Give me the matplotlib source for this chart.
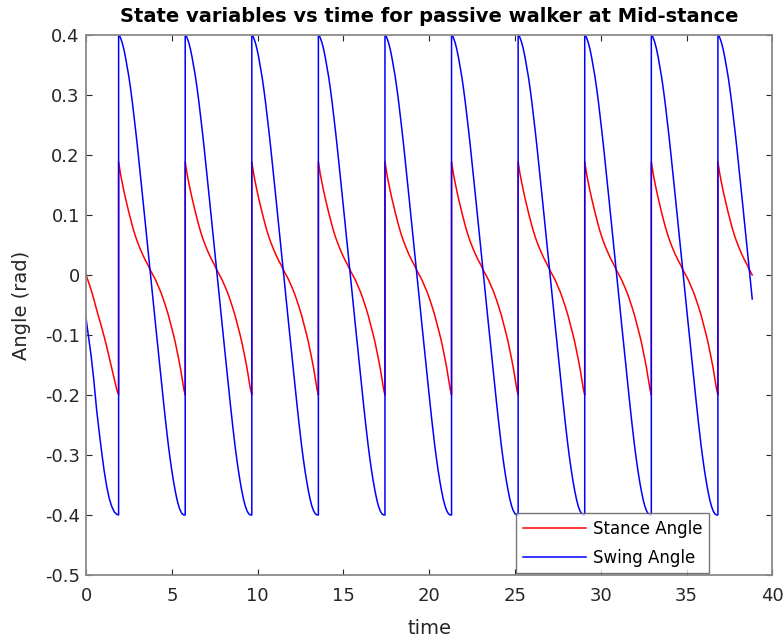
import numpy as np
import matplotlib
matplotlib.use("Agg")
import matplotlib.pyplot as plt

plt.rcParams['font.family'] = ['DejaVu Sans']
plt.rcParams['axes.unicode_minus'] = False

# first (partial) step, starting at mid-stance
first_t = [0.0, 0.15, 0.3, 0.45, 0.62, 0.77, 0.92, 1.06, 1.21, 1.35, 1.5, 1.65, 1.8, 1.9]
first_stance = [0.0, -0.012, -0.025, -0.040, -0.058, -0.073, -0.088, -0.103, -0.12,
                -0.137, -0.155, -0.174, -0.192, -0.2]
first_swing = [-0.072, -0.104, -0.135, -0.174, -0.225, -0.262, -0.297, -0.327, -0.353,
               -0.372, -0.386, -0.395, -0.399, -0.4]

# one full step of the limit cycle, time measured from heel strike
cycle_tau = [0.0, 0.05, 0.1, 0.2, 0.3, 0.4, 0.5, 0.6, 0.7, 0.8, 0.9, 1.0, 1.1, 1.25,
             1.4, 1.55, 1.7, 1.85, 2.0, 2.15, 2.3, 2.45, 2.6, 2.75, 2.9, 3.0, 3.1,
             3.2, 3.3, 3.4, 3.5, 3.6, 3.7, 3.8, 3.88]
cycle_stance = [0.189, 0.179, 0.170, 0.155, 0.141, 0.128, 0.116, 0.104, 0.093, 0.082,
                0.072, 0.063, 0.055, 0.044, 0.034, 0.025, 0.017, 0.008, 0.0, -0.008,
                -0.018, -0.028, -0.040, -0.053, -0.067, -0.078, -0.089, -0.100, -0.112,
                -0.126, -0.140, -0.155, -0.172, -0.190, -0.2]
cycle_swing = [0.400, 0.399, 0.396, 0.388, 0.377, 0.363, 0.347, 0.330, 0.310, 0.288,
               0.264, 0.239, 0.213, 0.172, 0.130, 0.088, 0.045, 0.003, -0.040, -0.082,
               -0.124, -0.166, -0.207, -0.247, -0.284, -0.306, -0.326, -0.344, -0.360,
               -0.374, -0.385, -0.393, -0.398, -0.400, -0.400]

# heel strike times and end of simulation
step_times = [1.9, 5.78, 9.66, 13.54, 17.42, 21.3, 25.18, 29.06, 32.94, 36.82]
end_time = 38.85

xticks = [0, 5, 10, 15, 20, 25, 30, 35, 40]
yticks = [-0.5, -0.4, -0.3, -0.2, -0.1, 0, 0.1, 0.2, 0.3, 0.4]
ytick_labels = ['-0.5', '-0.4', '-0.3', '-0.2', '-0.1', '0', '0.1', '0.2', '0.3', '0.4']

t = list(first_t)
stance = list(first_stance)
swing = list(first_swing)
for s in step_times:
    for tau, a, b in zip(cycle_tau, cycle_stance, cycle_swing):
        if s + tau > end_time + 1e-9:
            break
        t.append(s + tau)
        stance.append(a)
        swing.append(b)

fig = plt.figure(figsize=(7.84, 6.43), dpi=100)
ax = fig.add_axes([0.1097, 0.1058, 0.8756, 0.8398])

ax.plot(t, stance, color=(1, 0, 0), lw=1.1, label='Stance Angle')
ax.plot(t, swing, color=(0, 0, 1), lw=1.1, label='Swing Angle')

ax.set_xlim(0, 40)
ax.set_ylim(-0.5, 0.4)
ax.set_xticks(xticks)
ax.set_yticks(yticks)
ax.set_yticklabels(ytick_labels)
ax.tick_params(direction='in', top=True, right=True, length=4, width=0.8,
               labelsize=13, colors='#262626')
ax.tick_params(axis='x', pad=9)
ax.tick_params(axis='y', pad=4.5)
for sp in ax.spines.values():
    sp.set_color('#8a8a8a')
    sp.set_linewidth(1.3)

ax.set_title('State variables vs time for passive walker at Mid-stance',
             fontsize=14, fontweight='bold', color='black', pad=9)
ax.set_xlabel('time', fontsize=14, color='#262626', labelpad=10)
ax.set_ylabel('Angle (rad)', fontsize=14, color='#262626', labelpad=10)

leg = ax.legend(loc='lower left', bbox_to_anchor=(0.627, 0.003), fontsize=12,
                frameon=True, fancybox=False, handlelength=3.8, handletextpad=0.4,
                borderpad=0.4, labelspacing=0.65, borderaxespad=0)
leg.get_frame().set_edgecolor('#555555')
leg.get_frame().set_linewidth(1.0)

fig.savefig('out.png', dpi=100)
